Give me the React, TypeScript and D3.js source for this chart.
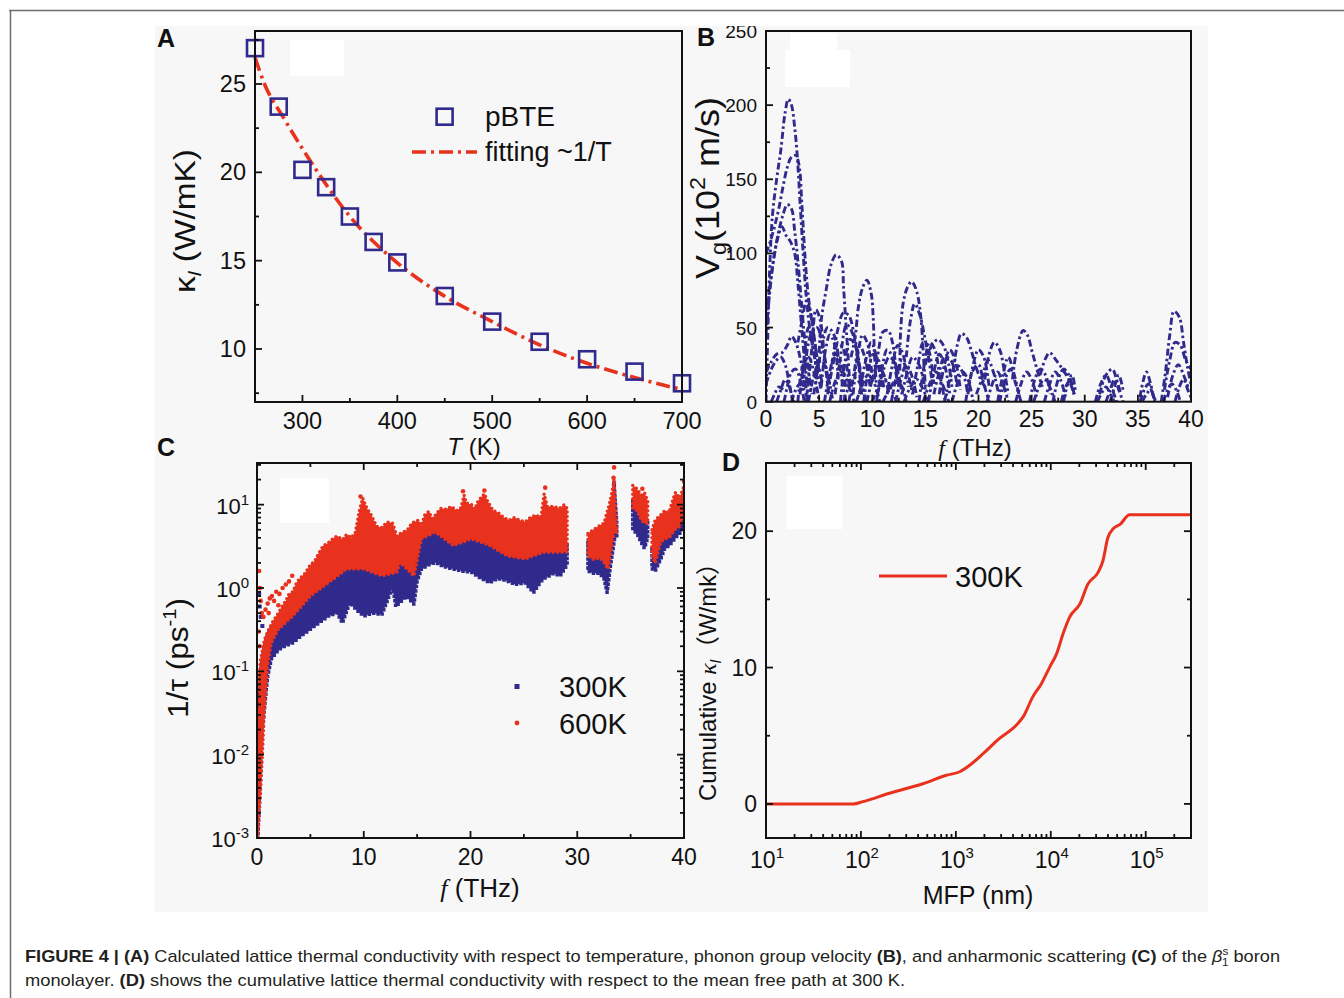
import React from "react";
import * as d3 from "d3";

const FONT = "'Liberation Sans', Arial, Helvetica, 'Noto Sans CJK SC', sans-serif";
const SERIF = "'Liberation Serif', 'Times New Roman', serif";
const BLUE = "#2f2a8c";
const RED = "#e8321e";
const INK = "#111";

// ---------------- Panel A : kappa vs T ----------------
const temperatureK = [250, 275, 300, 325, 350, 375, 400, 450, 500, 550, 600, 650, 700];
const kappaPBTE = [27.03, 23.72, 20.14, 19.16, 17.5, 16.06, 14.9, 13.0, 11.55, 10.41, 9.42, 8.72, 8.06];
const fitTemperatureK = [250, 260, 280, 320, 350, 395, 448, 500, 554, 600, 647, 700];
const fitKappa = [26.5, 25.0, 23.1, 19.7, 17.5, 15.1, 13.05, 11.55, 10.14, 9.19, 8.43, 7.7];
const tempTicks = [300, 400, 500, 600, 700];
const tempMinor = [350, 450, 550, 650];
const kappaTicks = [10, 15, 20, 25];
const kappaMinor = [7.5, 12.5, 17.5, 22.5, 27.5];

// ---------------- Panel B : group velocity ----------------
const freqTicksB = [0, 5, 10, 15, 20, 25, 30, 35, 40];
const freqMinorB = [2.5, 7.5, 12.5, 17.5, 22.5, 27.5, 32.5, 37.5];
const vgTicks = [0, 50, 100, 150, 200, 250];
const vgMinor = [25, 75, 125, 175, 225];
const vgBranches = [
  [[0,0],[0.15,40],[0.35,90],[0.6,125],[1.0,150],[1.4,170],[1.8,195],[2.1,204],[2.4,200],[2.7,185],[2.95,165],[3.2,135],[3.5,100],[3.8,70],[4.2,45],[4.7,25],[5.2,8]],
  [[0,100],[0.4,108],[0.8,118],[1.2,130],[1.6,145],[2.0,158],[2.4,165],[2.8,166],[3.1,160],[3.4,130],[3.7,95],[4.0,70],[4.4,50],[4.8,30],[5.3,12]],
  [[0,55],[0.4,80],[0.8,100],[1.2,115],[1.6,126],[2.0,133],[2.4,130],[2.7,115],[3.0,95],[3.3,70],[3.6,45],[4.0,20],[4.3,5]],
  [[0,45],[0.3,70],[0.7,95],[1.1,110],[1.5,118],[1.9,112],[2.3,108],[2.7,100],[3.0,80],[3.3,55],[3.6,30],[3.9,10]],
  [[0,20],[0.5,27],[1.0,32],[1.5,33],[2.0,38],[2.4,44],[2.8,40],[3.2,30],[3.6,15],[4,2]],
  [[0,12],[0.5,22],[1.0,28],[1.4,30],[1.8,25],[2.2,12],[2.5,0]],
  [[1.7,0],[2.0,10],[2.4,20],[2.8,22],[3.2,15],[3.6,0]],
  [[5.0,33],[5.2,55],[5.7,77],[6.1,92],[6.6,99],[7.1,95],[7.3,77],[7.5,55],[7.7,33],[7.9,10]],
  [[8.0,30],[8.4,44],[8.7,64],[9.1,77],[9.5,82],[9.9,73],[10.1,55],[10.2,33],[10.4,10]],
  [[12.6,21],[12.65,44],[12.9,66],[13.3,77],[13.7,81],[14.0,78],[14.3,71],[14.6,55],[14.8,33],[15.0,10]],
  [[13.2,30],[13.6,55],[14.0,66],[14.5,58],[14.9,45],[15.3,30],[15.6,15]],
  [[6.2,25],[6.8,50],[7.3,60],[7.8,58],[8.3,45],[8.8,25],[9.2,5]],
  [[10.2,15],[10.6,35],[11.0,47],[11.5,48],[11.9,40],[12.2,25],[12.5,10]],
  [[15.0,25],[15.6,38],[16.2,42],[16.7,38],[17.2,25],[17.5,10]],
  [[17.6,20],[18.0,38],[18.4,46],[18.9,43],[19.3,35],[19.7,25],[20.2,15],[20.8,8]],
  [[20.6,15],[21.0,32],[21.5,40],[22.0,35],[22.4,22],[22.8,5]],
  [[23.2,15],[23.6,35],[24.2,48],[24.6,45],[25.0,35],[25.5,22],[26.0,10]],
  [[25.8,18],[26.3,29],[26.7,33],[27.3,28],[27.9,22],[28.5,15],[29.0,5]],
  [[31.4,5],[31.8,15],[32.2,20],[32.6,22],[33.0,15],[33.4,5]],
  [[35.2,3],[35.5,14],[35.8,20],[36.2,12],[36.5,2]],
  [[37.2,0],[37.6,20],[38.0,45],[38.4,61],[38.9,57],[39.3,40],[39.7,22],[40,12]],
  [[37.5,8],[38.0,28],[38.5,40],[39.0,38],[39.5,28],[40,22]],
  [[37.8,3],[38.3,18],[38.8,25],[39.3,18],[39.8,8]],
  [[3.0,0],[3.5,25],[4.0,30],[4.5,20],[5.0,0]],
  [[3.5,10],[4.2,45],[4.8,50],[5.4,35],[5.9,10]],
  [[4.5,5],[5.2,35],[5.8,50],[6.4,45],[7.0,20],[7.5,0]],
  [[5.5,0],[6.0,20],[6.5,32],[7.0,28],[7.5,10]],
  [[6.5,5],[7.0,30],[7.6,52],[8.2,45],[8.7,25],[9.0,5]],
  [[7.8,0],[8.3,20],[8.8,38],[9.3,30],[9.8,10]],
  [[8.8,5],[9.3,25],[9.9,40],[10.4,30],[10.9,10]],
  [[9.5,0],[10.0,15],[10.5,25],[11.0,20],[11.6,5]],
  [[10.5,5],[11.0,20],[11.6,30],[12.2,25],[12.8,5]],
  [[11.8,0],[12.3,18],[12.8,28],[13.3,20],[13.8,5]],
  [[12.8,5],[13.3,20],[13.8,30],[14.4,25],[15.0,8]],
  [[14.4,0],[14.9,25],[15.4,40],[15.9,35],[16.4,15],[16.9,0]],
  [[15.8,5],[16.3,20],[16.8,30],[17.4,28],[18.0,10]],
  [[16.8,0],[17.3,15],[17.9,25],[18.5,20],[19.0,5]],
  [[18.8,0],[19.4,20],[20.0,25],[20.5,12],[21.0,0]],
  [[19.8,5],[20.3,15],[20.9,28],[21.4,20],[21.9,5]],
  [[22.0,0],[22.5,15],[23.0,22],[23.5,12],[24.0,0]],
  [[24.8,0],[25.3,15],[25.8,22],[26.3,18],[26.8,5]],
  [[27.0,0],[27.5,15],[28.0,22],[28.5,18],[29.0,5]],
  [[27.8,0],[28.2,10],[28.6,14],[29.0,5]],
  [[31.0,0],[31.5,12],[32.0,18],[32.5,10],[33.0,0]],
  [[32.0,0],[32.4,8],[32.8,15],[33.2,8],[33.6,0]],
  [[35.2,0],[35.6,8],[36.0,12],[36.4,5],[36.7,0]],
  [[4.0,0],[4.6,20],[5.2,28],[5.8,18],[6.3,0]],
  [[6.0,0],[6.6,15],[7.2,20],[7.8,10],[8.3,0]],
  [[7.3,0],[7.8,10],[8.4,16],[9.0,10],[9.5,0]],
  [[8.5,0],[9.0,10],[9.6,18],[10.2,12],[10.7,0]],
  [[10.0,0],[10.6,10],[11.2,15],[11.8,8],[12.3,0]],
  [[11.0,0],[11.6,8],[12.2,14],[12.8,10],[13.2,0]],
  [[13.0,0],[13.6,10],[14.2,15],[14.8,8],[15.3,0]],
  [[14.8,0],[15.4,12],[16.0,20],[16.6,12],[17.2,0]],
  [[2.4,0],[2.8,8],[3.2,12],[3.6,8],[4.0,0]],
  [[3.2,5],[3.6,30],[4.0,50],[4.4,40],[4.8,15]],
  [[3.8,0],[4.3,35],[4.7,62],[5.1,55],[5.5,30],[5.9,5]],
  [[5.2,10],[5.6,35],[6.0,45],[6.4,40],[6.8,15]],
  [[5.8,5],[6.3,25],[6.8,40],[7.3,35],[7.8,12]],
  [[7.0,0],[7.4,25],[7.9,42],[8.4,38],[8.9,15]],
  [[8.2,5],[8.6,30],[9.1,45],[9.6,38],[10.0,15]],
  [[9.2,0],[9.6,20],[10.1,32],[10.6,28],[11.1,8]],
  [[10.4,0],[10.9,22],[11.4,35],[11.9,30],[12.4,10]],
  [[11.4,5],[11.9,25],[12.4,38],[12.9,32],[13.4,10]],
  [[12.2,0],[12.7,15],[13.2,25],[13.7,18],[14.2,3]],
  [[13.8,5],[14.3,25],[14.8,40],[15.3,35],[15.8,12]],
  [[15.3,0],[15.8,20],[16.3,32],[16.8,25],[17.3,5]],
  [[16.3,5],[16.8,25],[17.3,35],[17.8,28],[18.3,8]],
  [[17.5,0],[18.0,12],[18.5,20],[19.0,15],[19.5,0]],
  [[19.0,5],[19.5,25],[20.0,35],[20.5,30],[21.0,10]],
  [[20.8,0],[21.3,12],[21.8,20],[22.3,12],[22.8,0]],
  [[21.8,0],[22.3,18],[22.8,30],[23.3,20],[23.8,5]],
  [[23.5,0],[24.0,12],[24.5,20],[25.0,15],[25.5,2]],
  [[25.2,0],[25.7,10],[26.2,15],[26.7,10],[27.2,0]],
  [[26.2,0],[26.7,12],[27.2,20],[27.7,15],[28.2,3]],
  [[28.0,0],[28.4,12],[28.8,18],[29.1,8]],
  [[31.2,0],[31.6,6],[32.0,10],[32.4,5],[32.8,0]],
  [[32.4,0],[32.8,10],[33.2,18],[33.6,8]],
  [[35.4,0],[35.8,5],[36.2,8],[36.6,0]],
  [[37.4,0],[37.8,8],[38.2,12],[38.6,8],[39.0,0]],
  [[38.5,0],[38.9,10],[39.3,15],[39.7,8],[40,3]],
  [[1.0,0],[1.4,8],[1.8,15],[2.2,10],[2.6,0]],
  [[0.5,0],[0.8,5],[1.2,10],[1.6,8]],
  [[3.0,40],[3.4,55],[3.8,68],[4.2,60],[4.6,40],[5.0,20]],
];

// ---------------- Panel C : scattering rates (bands of scattered points) ----------------
const freqTicksC = [0, 10, 20, 30, 40];
const freqMinorC = [5, 15, 25, 35];
const rateExponents = [-3, -2, -1, 0, 1];
const red600Upper = [
  [[0.05,0.002],[0.1,0.03],[0.3,0.13],[0.7,0.24],[1.0,0.3],[1.5,0.4],[2.0,0.5],[2.4,0.62],[2.7,0.7],[3.0,0.85],[3.35,0.9],[3.7,1.15],[4.0,1.3],[4.5,1.5],[5.0,1.9],[5.4,2.1],[5.7,2.5],[6.2,3.2],[6.7,3.5],[7.1,3.9],[7.5,4.2],[8.0,3.8],[8.4,4.4],[8.8,4.0],[9.2,4.6],[9.6,8.5],[9.9,12],[10.3,9],[10.7,7.5],[11.2,5.5],[11.7,5.3],[12.2,6.2],[12.7,6.0],[13.1,4.2],[13.4,4.5],[14.1,5.0],[14.5,6.0],[15.1,6.5],[15.4,5.6],[15.7,7.5],[16.1,8.3],[16.4,6.8],[16.7,7.5],[17.2,9.0],[17.7,8.8],[18.2,9.5],[18.7,8.5],[19.1,9.2],[19.4,13],[19.6,10.5],[20.1,10.0],[20.4,8.8],[20.7,11.0],[21.3,13.5],[21.6,11],[22.1,8.5],[22.6,8.0],[23.1,7.0],[23.6,6.5],[24.1,7.0],[24.6,6.5],[25.1,6.2],[25.6,7.0],[26.1,7.5],[26.6,7.0],[26.9,13.5],[27.2,9.5],[27.8,9.5],[28.3,9.0],[28.8,10.0],[29.05,9.0]],
  [[31.0,4.5],[31.5,5.0],[32.0,5.5],[32.5,6.0],[33.0,10],[33.3,15],[33.45,20],[33.6,8],[33.7,5]],
  [[35.2,17],[35.5,16],[36.0,13],[36.3,14],[36.6,11]],
  [[37.0,5],[37.3,6.5],[37.8,7.5],[38.2,8.5],[38.6,8],[39.0,12],[39.2,14],[39.6,12],[40,17]],
];
const red600Lower = [
  [[0.05,0.001],[0.3,0.003],[0.5,0.01],[0.67,0.031],[1.0,0.12],[1.34,0.22],[2.0,0.32],[3.35,0.46],[5.0,0.8],[6.7,1.16],[8.4,1.69],[10.0,1.69],[11.7,1.4],[13.1,1.54],[13.4,2.03],[14.7,1.4],[15.4,3.89],[16.7,4.68],[18.4,3.23],[20.1,3.89],[21.8,3.23],[23.4,2.44],[25.1,2.23],[26.8,2.69],[28.8,2.69],[29.05,2.7]],
  [[31.0,2.44],[31.5,2.2],[32.1,2.3],[32.5,2.03],[32.9,1.69],[33.2,3.0],[33.5,5.1],[33.7,4.5]],
  [[35.2,9],[35.6,8.5],[36.0,6.5],[36.3,6],[36.6,6]],
  [[37.0,2.5],[37.3,2.0],[37.8,3.5],[38.2,3.9],[38.6,4.0],[39.2,5.1],[39.6,5.5],[40,7.4]],
];
const blue300Upper = [
  [[0.08,0.001],[0.2,0.05],[0.4,0.12],[0.7,0.2],[1.0,0.28],[1.5,0.36],[2.0,0.45],[3.35,0.6],[5.0,1.0],[6.7,1.5],[8.4,2.0],[9.4,2.2],[9.9,4.9],[10.2,2.4],[11.0,2.2],[11.7,2.0],[12.3,2.6],[12.7,3.0],[13.1,2.2],[13.4,2.6],[14.1,2.4],[14.7,2.2],[15.4,4.2],[16.1,4.6],[16.7,5.0],[17.7,4.0],[18.4,3.8],[19.4,4.0],[20.1,4.4],[21.0,4.0],[21.8,3.8],[22.5,3.8],[23.4,3.2],[24.1,3.0],[25.1,3.0],[25.9,3.0],[26.8,3.4],[27.8,3.6],[28.8,3.4],[29.05,3.4]],
  [[31.0,3.5],[31.5,3.6],[32.1,3.5],[32.5,3.0],[32.9,2.6],[33.2,5],[33.45,18],[33.7,6]],
  [[35.2,11],[35.6,10],[36.0,8],[36.3,7],[36.6,6.5]],
  [[37.0,3],[37.3,2.5],[37.8,4.5],[38.2,5],[38.6,5.2],[39.2,7],[39.6,7.5],[40,9.5]],
];
const blue300Lower = [
  [[0.08,0.001],[0.5,0.02],[1.0,0.087],[1.34,0.14],[2.0,0.18],[2.6,0.2],[3.35,0.22],[4.2,0.27],[5.0,0.32],[5.8,0.38],[6.7,0.46],[7.5,0.5],[8.0,0.38],[8.7,0.67],[9.3,0.55],[10.0,0.46],[10.8,0.5],[11.7,0.48],[12.2,0.7],[12.7,1.06],[13.0,0.6],[13.4,0.67],[14.0,0.8],[14.7,0.64],[15.0,1.2],[15.4,1.69],[16.1,1.9],[16.7,2.03],[17.5,1.8],[18.4,1.69],[19.2,1.6],[20.1,1.54],[21.0,1.3],[21.8,1.16],[22.6,1.3],[23.4,1.22],[24.2,1.1],[25.1,1.16],[25.9,0.88],[26.4,1.1],[26.8,1.28],[27.8,1.5],[28.4,1.4],[29.0,1.85],[29.05,1.9]],
  [[31.0,1.6],[31.5,1.5],[32.1,1.5],[32.5,1.3],[32.8,0.88],[33.1,1.8],[33.5,3.9],[33.7,4.2]],
  [[35.2,5],[35.6,4.5],[36.0,3.5],[36.3,3.0],[36.6,4]],
  [[37.0,1.7],[37.3,1.6],[37.8,2.2],[38.2,3.0],[38.6,3.2],[39.2,4.0],[39.6,4.5],[40,5.5]],
];
const red600Outliers = [[0.2,1.6],[0.27,1.0],[0.35,0.7],[0.45,0.5],[0.6,0.45],[0.8,0.55],[1.0,0.65],[1.2,0.75],[1.4,0.8],[1.6,0.7],[1.8,0.9],[2.1,0.85],[2.4,1.0],[2.7,1.1],[3.0,1.2],[3.3,1.4],[0.15,0.3],[0.25,0.2],[1.1,0.5],[2.0,0.62],[9.7,12.5],[19.3,14.5],[21.3,14.8],[27.0,16],[33.45,28],[33.4,21],[40,19],[36.1,15.5],[0.12,0.006],[0.18,0.02],[0.22,0.004]];
const blue300Outliers = [[0.2,0.85],[0.25,0.6],[0.35,0.45],[0.5,0.35],[9.8,4.9],[33.45,18],[13.5,3],[12.5,2.5],[0.1,0.003],[0.15,0.01]];

// ---------------- Panel D : cumulative kappa vs MFP ----------------
const mfpNm = [10, 83, 105, 200, 457, 794, 1100, 1410, 1950, 2880, 4370, 5130, 6460, 7940, 9770, 11500, 13500, 15800, 20400, 24500, 31600, 35500, 39800, 45700, 53700, 67600, 300000];
const cumKappa = [0, 0, 0.17, 0.78, 1.5, 2.1, 2.36, 2.85, 3.7, 4.8, 5.8, 6.4, 7.85, 8.8, 10.05, 11.0, 12.5, 13.7, 14.7, 16.1, 17.0, 17.85, 19.5, 20.2, 20.5, 21.2, 21.2];
const mfpExponents = [1, 2, 3, 4, 5];
const cumTicks = [0, 10, 20];
const cumMinor = [5, 15];

const MAJ = 7;
const MIN = 4;

function logMinor(lo: number, hi: number) {
  const out: number[] = [];
  for (let e = Math.floor(Math.log10(lo)); e <= Math.ceil(Math.log10(hi)); e++) {
    for (let m = 2; m <= 9; m++) {
      const v = m * Math.pow(10, e);
      if (v > lo && v < hi) out.push(v);
    }
  }
  return out;
}

function TickLines({ x0, x1, y0, y1, xs, ys, xMaj, xMin, yMaj, yMin, all }: any) {
  const L: any[] = [];
  xMaj.forEach((v: number, i: number) => {
    const p = xs(v);
    L.push(<line key={"xb" + i} x1={p} x2={p} y1={y1} y2={y1 - MAJ} />);
    if (all) L.push(<line key={"xt" + i} x1={p} x2={p} y1={y0} y2={y0 + MAJ} />);
  });
  xMin.forEach((v: number, i: number) => {
    const p = xs(v);
    L.push(<line key={"xbm" + i} x1={p} x2={p} y1={y1} y2={y1 - MIN} />);
    if (all) L.push(<line key={"xtm" + i} x1={p} x2={p} y1={y0} y2={y0 + MIN} />);
  });
  yMaj.forEach((v: number, i: number) => {
    const p = ys(v);
    L.push(<line key={"yl" + i} x1={x0} x2={x0 + MAJ} y1={p} y2={p} />);
    if (all) L.push(<line key={"yr" + i} x1={x1} x2={x1 - MAJ} y1={p} y2={p} />);
  });
  yMin.forEach((v: number, i: number) => {
    const p = ys(v);
    L.push(<line key={"ylm" + i} x1={x0} x2={x0 + MIN} y1={p} y2={p} />);
    if (all) L.push(<line key={"yrm" + i} x1={x1} x2={x1 - MIN} y1={p} y2={p} />);
  });
  return (
    <g stroke={INK} strokeWidth={1.8}>
      {L}
      <rect x={x0} y={y0} width={x1 - x0} height={y1 - y0} fill="none" strokeWidth={2} />
    </g>
  );
}

function bandPath(upper: number[][], lower: number[][], xs: any, ys: any) {
  const line = d3.line<number[]>().x((d) => xs(d[0])).y((d) => ys(d[1]));
  const pts = upper.concat(lower.slice().reverse());
  return line(pts) + "Z";
}

export default function App() {
  const ax = d3.scaleLinear().domain([250, 700]).range([255, 682]);
  const ay = d3.scaleLinear().domain([7, 28]).range([402, 31]);
  const fitLine = d3.line<number>().x((_, i) => ax(fitTemperatureK[i])).y((d) => ay(d)).curve(d3.curveMonotoneX)(fitKappa);

  const bx = d3.scaleLinear().domain([0, 40]).range([766, 1191]);
  const by = d3.scaleLinear().domain([0, 250]).range([401.7, 31]);
  const bLine = d3.line<number[]>().x((d) => bx(d[0])).y((d) => by(d[1])).curve(d3.curveCatmullRom);

  const cx = d3.scaleLinear().domain([0, 40]).range([257, 684]);
  const cy = d3.scaleLog().domain([1e-3, Math.pow(10, 1.5)]).range([838, 463]);

  const dx = d3.scaleLog().domain([10, 300000]).range([766, 1191]);
  const dy = d3.scaleLinear().domain([-2.5, 25]).range([838, 463]);
  const dLine = d3.line<number>().x((_, i) => dx(mfpNm[i])).y((d) => dy(d)).curve(d3.curveMonotoneX)(cumKappa);

  return (
    <svg width={1344} height={998} style={{ position: "absolute", left: 0, top: 0, background: "#fff" }} fontFamily={FONT}>
      <defs>
        <clipPath id="fig"><rect x={155} y={26} width={1053} height={886} /></clipPath>
        <clipPath id="pb"><rect x={766} y={31} width={425} height={371} /></clipPath>
        <clipPath id="pc"><rect x={257} y={463} width={427} height={375} /></clipPath>
      </defs>
      <rect x={0} y={0} width={1344} height={998} fill="#fff" />
      <line x1={9} x2={1344} y1={10.5} y2={10.5} stroke="#6d6d6d" strokeWidth={1.5} />
      <line x1={10.5} x2={10.5} y1={10} y2={998} stroke="#6d6d6d" strokeWidth={1.5} />

      <g clipPath="url(#fig)">
        <rect x={155} y={26} width={1053} height={886} fill="#f7f7f7" />

        {/* ================= Panel A ================= */}
        <rect x={290} y={40} width={54} height={36} fill="#fff" />
        <text x={157} y={47} fontSize={25} fontWeight="bold" fill={INK}>A</text>
        <path d={fitLine || ""} fill="none" stroke={RED} strokeWidth={3.6} strokeDasharray="14 5 3 5" />
        {temperatureK.map((t, i) => (
          <rect key={i} x={ax(t) - 8} y={ay(kappaPBTE[i]) - 8} width={16} height={16} fill="none" stroke={BLUE} strokeWidth={2.6} />
        ))}
        <TickLines x0={255} x1={682} y0={31} y1={402} xs={ax} ys={ay} xMaj={tempTicks} xMin={tempMinor} yMaj={kappaTicks} yMin={kappaMinor} all={false} />
        <g fontSize={23.5} fill={INK}>
          {tempTicks.map((t) => (<text key={t} x={ax(t)} y={429} textAnchor="middle">{t}</text>))}
          {kappaTicks.map((k) => (<text key={k} x={246} y={ay(k) + 8} textAnchor="end">{k}</text>))}
        </g>
        <text x={474} y={455} textAnchor="middle" fontSize={24} fill={INK}><tspan fontStyle="italic">T</tspan> (K)</text>
        <text transform="translate(195,221) rotate(-90)" textAnchor="middle" fontSize={29} fill={INK} textLength={144} lengthAdjust="spacingAndGlyphs">
          κ<tspan fontSize={19} fontStyle="italic" dy={6}>l</tspan><tspan dy={-6}> (W/mK)</tspan>
        </text>
        <rect x={436.6} y={108.7} width={16} height={16} fill="none" stroke={BLUE} strokeWidth={2.6} />
        <text x={485} y={126} fontSize={28} fill={INK}>pBTE</text>
        <line x1={412} x2={477} y1={152} y2={152} stroke={RED} strokeWidth={3.6} strokeDasharray="14 5 3 5" />
        <text x={485} y={161} fontSize={27} fill={INK}>fitting ~1/T</text>

        {/* ================= Panel B ================= */}
        <rect x={790} y={33} width={47} height={20} fill="#fff" />
        <rect x={785} y={50} width={65} height={37} fill="#fff" />
        <text x={697} y={46} fontSize={25} fontWeight="bold" fill={INK}>B</text>
        <g clipPath="url(#pb)" fill="none" stroke={BLUE} strokeWidth={2.9} strokeDasharray="7 3 2.5 3">
          {vgBranches.map((br, i) => (<path key={i} d={bLine(br as any) || ""} />))}
        </g>
        <TickLines x0={766} x1={1191} y0={31} y1={401.7} xs={bx} ys={by} xMaj={freqTicksB} xMin={freqMinorB} yMaj={vgTicks} yMin={vgMinor} all={false} />
        <g fill={INK}>
          {freqTicksB.map((t) => (<text key={t} x={bx(t)} y={427} textAnchor="middle" fontSize={23}>{t}</text>))}
          {vgTicks.map((v) => (<text key={v} x={757} y={by(v) + 7} textAnchor="end" fontSize={19}>{v}</text>))}
        </g>
        <text x={975} y={456} textAnchor="middle" fontSize={24} fill={INK}><tspan fontFamily={SERIF} fontStyle="italic">f</tspan> (THz)</text>
        <text transform="translate(719,188) rotate(-90)" textAnchor="middle" fontSize={34} fill={INK} textLength={182} lengthAdjust="spacingAndGlyphs">
          V<tspan fontSize={22} dy={7}>g</tspan><tspan dy={-7}>(10</tspan><tspan fontSize={22} dy={-14}>2</tspan><tspan dy={14}> m/s)</tspan>
        </text>

        {/* ================= Panel C ================= */}
        <rect x={280} y={478} width={49} height={45} fill="#fff" />
        <text x={157} y={456} fontSize={25} fontWeight="bold" fill={INK}>C</text>
        <g clipPath="url(#pc)">
          {blue300Upper.map((u, i) => (
            <path key={"b" + i} d={bandPath(u, blue300Lower[i], cx, cy)} fill={BLUE} stroke={BLUE} strokeWidth={3.5} strokeDasharray="0 4.5" strokeLinecap="square" />
          ))}
          {blue300Outliers.map((p, i) => (<rect key={"bo" + i} x={cx(p[0]) - 2} y={cy(p[1]) - 2} width={4} height={4} fill={BLUE} />))}
          {red600Upper.map((u, i) => (
            <path key={"r" + i} d={bandPath(u, red600Lower[i], cx, cy)} fill={RED} stroke={RED} strokeWidth={3.5} strokeDasharray="0 4.5" strokeLinecap="round" />
          ))}
          {red600Outliers.map((p, i) => (<circle key={"ro" + i} cx={cx(p[0])} cy={cy(p[1])} r={2.3} fill={RED} />))}
        </g>
        <TickLines x0={257} x1={684} y0={463} y1={838} xs={cx} ys={cy} xMaj={freqTicksC} xMin={freqMinorC} yMaj={rateExponents.map((e) => Math.pow(10, e))} yMin={logMinor(1e-3, Math.pow(10, 1.5))} all={true} />
        <g fill={INK}>
          {freqTicksC.map((t) => (<text key={t} x={cx(t)} y={865} textAnchor="middle" fontSize={23}>{t}</text>))}
          {rateExponents.map((e) => (
            <text key={e} x={249} y={cy(Math.pow(10, e)) + 9} textAnchor="end" fontSize={22}>
              10<tspan fontSize={15} dy={-9}>{e}</tspan>
            </text>
          ))}
        </g>
        <text x={480} y={897} textAnchor="middle" fontSize={26} fill={INK}><tspan fontFamily={SERIF} fontStyle="italic">f</tspan> (THz)</text>
        <text transform="translate(188,658) rotate(-90)" textAnchor="middle" fontSize={30} fill={INK} textLength={120} lengthAdjust="spacingAndGlyphs">
          1/τ (ps<tspan fontSize={19} dy={-12}>-1</tspan><tspan dy={12}>)</tspan>
        </text>
        <rect x={514.5} y={684} width={5} height={5} fill={BLUE} />
        <text x={559} y={697} fontSize={29} fill={INK}>300K</text>
        <circle cx={517} cy={723} r={2.4} fill={RED} />
        <text x={559} y={734} fontSize={29} fill={INK}>600K</text>

        {/* ================= Panel D ================= */}
        <rect x={787} y={476} width={56} height={53} fill="#fff" />
        <text x={722} y={471} fontSize={25} fontWeight="bold" fill={INK}>D</text>
        <path d={dLine || ""} fill="none" stroke={RED} strokeWidth={3} />
        <TickLines x0={766} x1={1191} y0={463} y1={838} xs={dx} ys={dy} xMaj={mfpExponents.map((e) => Math.pow(10, e))} xMin={logMinor(10, 300000)} yMaj={cumTicks} yMin={cumMinor} all={true} />
        <g fill={INK}>
          {mfpExponents.map((e) => (
            <text key={e} x={dx(Math.pow(10, e)) + 1} y={868} textAnchor="middle" fontSize={23}>
              10<tspan fontSize={15} dy={-10}>{e}</tspan>
            </text>
          ))}
          {cumTicks.map((v) => (<text key={v} x={757} y={dy(v) + 8} textAnchor="end" fontSize={23}>{v}</text>))}
        </g>
        <text x={978} y={904} textAnchor="middle" fontSize={25} fill={INK}>MFP (nm)</text>
        <text transform="translate(716,676) rotate(-90)" textAnchor="middle" fontSize={24} fill={INK} textLength={250} lengthAdjust="spacingAndGlyphs">
          Cumulative <tspan fontFamily={SERIF} fontStyle="italic">κ</tspan><tspan fontSize={15} fontStyle="italic" dy={5}>l</tspan><tspan dy={-5}>（W/mk）</tspan>
        </text>
        <line x1={879} x2={947} y1={576} y2={576} stroke={RED} strokeWidth={3} />
        <text x={955} y={587} fontSize={29} fill={INK}>300K</text>
      </g>

      {/* ================= Caption ================= */}
      <g fill="#231f20" fontSize={17}>
        <text x={25} y={962} textLength={1255} lengthAdjust="spacingAndGlyphs">
          <tspan fontWeight="bold">FIGURE 4 | (A)</tspan> Calculated lattice thermal conductivity with respect to temperature, phonon group velocity <tspan fontWeight="bold">(B)</tspan>, and anharmonic scattering <tspan fontWeight="bold">(C)</tspan> of the <tspan fontStyle="italic">β</tspan><tspan fontSize={11} dy={-7}>s</tspan><tspan fontSize={11} dx={-6} dy={11}>1</tspan><tspan dy={-4}> boron</tspan>
        </text>
        <text x={25} y={986} textLength={880} lengthAdjust="spacingAndGlyphs">
          monolayer. <tspan fontWeight="bold">(D)</tspan> shows the cumulative lattice thermal conductivity with respect to the mean free path at 300 K.
        </text>
      </g>
    </svg>
  );
}
